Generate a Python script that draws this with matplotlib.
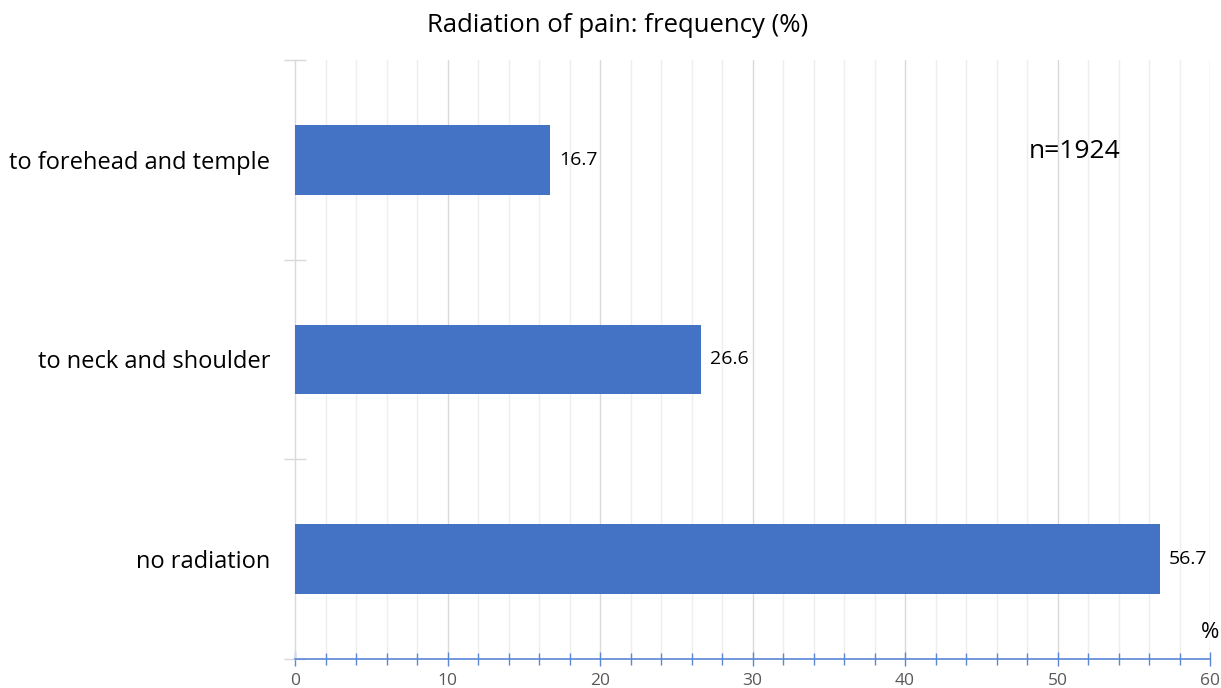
import matplotlib.pyplot as plt
from matplotlib.ticker import MultipleLocator
from matplotlib.transforms import blended_transform_factory

categories = ["no radiation", "to neck and shoulder", "to forehead and temple"]
values = [56.7, 26.6, 16.7]
x_ticks = [0, 10, 20, 30, 40, 50, 60]
sample_note = "n=1924"

plt.rcParams['font.family'] = ['Open Sans', 'DejaVu Sans']

fig = plt.figure(figsize=(12.21, 6.88), dpi=100)
ax = fig.add_axes([295 / 1221, 1 - 659 / 688, 915 / 1221, 599 / 688])

bar_color = "#4472C4"
ypos = list(range(len(categories)))
ax.barh(ypos, values, height=0.35, color=bar_color, zorder=3)

for y, v in zip(ypos, values):
    ax.annotate(f"{v:.1f}", xy=(v, y), xytext=(6.5, 0), textcoords="offset points",
                va="center", ha="left", fontsize=14, color="#000000")

ax.set_xlim(0, 60)
ax.set_ylim(-0.5, len(categories) - 0.5)

# vertical grid: every 2 light, every 10 slightly darker
for gx in range(2, 61, 2):
    if gx % 10 == 0:
        ax.axvline(gx, color="#D9D9D9", lw=1.0, zorder=1)
    else:
        ax.axvline(gx, color="#EEEEEE", lw=1.0, zorder=1)

# spines
for s in ["top", "right"]:
    ax.spines[s].set_visible(False)
ax.spines["left"].set_color("#D9D9D9")
ax.spines["left"].set_linewidth(1.0)
ax.spines["bottom"].set_color("#5B87D6")
ax.spines["bottom"].set_linewidth(1.2)
ax.spines["bottom"].set_zorder(4)

# y ticks: labels at centres, tick marks at category boundaries
ax.set_yticks(ypos)
ax.set_yticklabels(categories, fontsize=17, color="#000000")
ax.tick_params(axis="y", which="major", length=0, pad=18)
ax.set_yticks([-0.5 + i for i in range(len(categories) + 1)], minor=True)
ax.tick_params(axis="y", which="minor", direction="inout", length=16,
               color="#D9D9D9", width=1.0)

# x ticks
ax.set_xticks(x_ticks)
ax.set_xticklabels([str(t) for t in x_ticks], fontsize=12.5, color="#595959")
ax.xaxis.set_minor_locator(MultipleLocator(2))
ax.tick_params(axis="x", which="major", direction="inout", length=10,
               color="#5B87D6", width=1.0, pad=5)
ax.tick_params(axis="x", which="minor", direction="inout", length=8,
               color="#5B87D6", width=1.0)

unit_tr = blended_transform_factory(ax.transData, ax.transAxes)
ax.text(60, 0.045, "%", transform=unit_tr, ha="center", va="center", fontsize=16)

ax.text(1075 / 1221, 1 - 152 / 688, sample_note, transform=fig.transFigure,
        ha="center", va="center", fontsize=19)

fig.text(618 / 1221, 1 - 26 / 688, "Radiation of pain: frequency (%)",
         ha="center", va="center", fontsize=18.5)

fig.savefig("out.png", dpi=100, facecolor="white")
